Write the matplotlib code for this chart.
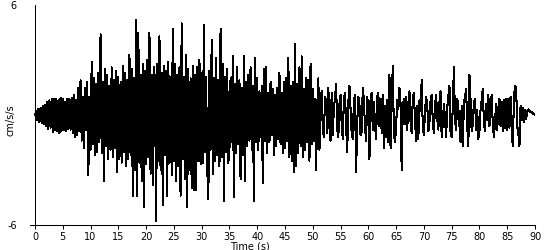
import matplotlib
matplotlib.use("Agg")
import matplotlib.pyplot as plt
import numpy as np

# acceleration record, one value every 0.2 s
dt = 0.2
accel = [
    # 0 - 5 s
    0, 0.2, -0.3, 0.35, -0.4, 0.4, -0.45, 0.5, -0.5, 0.55, -0.6, 0.7, -0.75, 0.8, -0.7, 0.9, -0.95, 0.85, -0.8, 0.9, -0.9, 0.8, -1.0, 0.95, -0.85,
    # 5 - 10 s
    0.9, -0.8, 0.7, -0.9, 0.85, -0.75, 0.9, -0.8, 0.95, -1.0, 1.1, -1.2, 0.8, -1.1, 1.5, -0.9, 1.9, -1.4, 1.0, -1.8, 1.5, -0.8, 1.8, -3.3, 1.0,
    # 10 - 15 s
    -1.9, 2.9, -1.6, 2.0, -2.2, 1.7, -2.0, 2.3, -1.5, 4.4, -2.1, 1.8, -3.6, 2.5, -1.7, 2.2, -2.4, 1.6, -1.9, 2.6, -2.3, 1.9, -1.8, 2.4, -3.1,
    # 15 - 20 s
    2.1, -2.4, 1.8, -2.6, 2.7, -2.0, 2.3, -2.8, 1.9, -2.4, 3.3, -2.2, 2.5, -4.4, 2.0, -3.0, 5.2, -4.4, 4.5, -2.6, 2.2, -3.6, 2.8, -5.0, 2.4,
    # 20 - 25 s
    -2.7, 3.0, -2.3, 4.5, -3.2, 2.2, -3.8, 2.6, 1.9, -5.8, 2.8, -2.5, 4.3, -3.0, 2.3, -4.9, 2.7, -2.2, 2.4, -4.4, 2.9, -2.6, 2.1, -3.3, 4.7,
    # 25 - 30 s
    -2.5, 2.8, -3.6, 2.2, -2.8, 2.6, -4.4, 5.0, -2.4, 2.1, -3.5, 3.3, -5.0, 2.5, -3.0, 2.0, -4.0, 2.7, -4.1, 2.2, -4.1, 2.6, -2.5, 3.0, -2.7,
    # 30 - 35 s
    2.3, -2.6, 4.9, -2.0, 2.1, -2.9, -4.6, 2.4, -1.9, 4.1, -3.2, 2.0, -2.5, 3.1, -2.2, 1.9, -2.8, 4.7, -2.3, 2.8, -4.7, 2.1, -2.0, 2.5, -2.6,
    # 35 - 40 s
    -1.9, 2.0, -1.5, 3.2, -4.5, 1.7, -2.1, 2.6, -1.6, 1.9, -3.5, 1.5, -2.2, 3.2, -3.6, 1.8, -1.7, 2.2, -1.4, 2.6, -1.9, 1.6, -4.7, 3.1, -1.5,
    # 40 - 45 s
    2.0, -1.9, 1.3, -1.2, 1.6, -3.7, 2.5, -1.4, 2.6, -2.1, 1.2, -1.5, 1.8, -1.1, 1.4, -2.2, 1.1, -1.7, 1.5, -1.3, 2.3, -1.6, 1.2, -2.1, 1.8,
    # 45 - 50 s
    -1.8, 2.0, -1.4, 3.1, -2.3, 1.6, -2.5, 1.8, -3.1, 3.9, -2.8, 1.7, -2.1, 2.6, -1.7, 3.2, -2.3, 1.4, -1.9, 2.0, -1.5, 1.9, -2.5, 2.8, -1.6,
    # 50 - 55 s
    1.4, -1.4, 0.9, -3.0, 0.4, 2.0, -1.9, 0.6, 1.3, -0.8, -1.2, 1.0, 0.8, -1.0, 1.5, -0.7, -1.4, 1.2, -1.1, 0.4, 0.9, 1.7, -0.8, -1.2, 0.6,
    # 55 - 60 s
    1.1, -0.5, -1.3, 0.9, 1.2, -0.6, -2.0, 0.7, 1.6, 0.3, -1.0, -1.3, 0.8, 1.1, -3.1, -0.4, 1.0, 0.6, -1.1, -0.9, 1.5, 0.8, -0.7, -1.4, 1.0,
    # 60 - 65 s
    0.4, -2.4, 0.9, 1.2, -0.8, 0.7, -0.5, -1.3, 1.0, 1.2, -0.6, 0.9, -1.0, 1.1, -1.8, 0.5, -1.2, 0.8, -1.5, 2.2, -1.8, 0.6, 2.7, -1.0, -1.5,
    # 65 - 70 s
    -0.6, 0.8, 0.3, 1.5, 0.6, -3.0, 0.4, 0.9, -0.5, 1.0, -0.8, 0.6, 1.3, -0.4, -1.0, 0.9, 1.2, -0.3, -1.4, 0.5, -1.3, 0.8, 0.2, 1.9, -0.7,
    # 70 - 75 s
    -1.1, 0.2, 1.0, 0.6, -0.9, -0.4, 0.8, 1.1, -0.3, -1.0, 0.5, 1.1, -0.2, -0.8, 0.7, 1.3, -1.2, -0.5, 0.6, -0.2, -1.2, 0.4, 1.0, 1.6, -1.0,
    # 75 - 80 s
    -1.2, 0.5, 2.6, -0.3, -0.8, 0.9, 0.4, -0.6, -1.5, 0.5, -1.7, 0.6, 1.0, 1.4, -0.6, -1.7, 2.2, 0.8, -0.9, -0.5, 0.7, 0.9, -0.8, 0.3, -1.3,
    # 80 - 85 s
    -0.9, 0.3, 0.8, 1.4, -0.4, -0.9, 0.6, -0.3, 1.1, -0.6, 0.4, 1.1, -0.5, -1.2, -0.4, 0.6, -0.8, 0.4, 0.9, -0.6, 0.7, -0.9, 0.8, -0.7, 0.9,
    # 85 - 90 s
    -0.8, 0.9, -0.7, 1.0, -0.9, -1.7, 0.8, 1.6, 1.5, -0.6, -1.0, -1.7, 0.5, -0.3, 0.4, -0.4, 0.3, -0.2, 0.2, 0.3, 0.25, 0.15, 0.15, 0.1, 0.05,
    0.0,
]
time = np.arange(len(accel)) * dt

x_ticks = list(range(0, 91, 5))
y_ticks = [-6, 6]

fig = plt.figure(figsize=(5.5, 2.5), dpi=100)
ax = fig.add_axes([30 / 550, 25 / 250, 505 / 550, 220 / 250])

ax.plot(time, accel, color="black", linewidth=0.75, antialiased=False)

ax.set_xlim(-0.9, 90)
ax.set_ylim(-6, 6)
ax.spines["top"].set_visible(False)
ax.spines["right"].set_visible(False)
ax.spines["left"].set_position(("data", 0))
for s in ["left", "bottom"]:
    ax.spines[s].set_linewidth(0.75)

ax.set_xticks(x_ticks)
ax.set_xticklabels([str(v) for v in x_ticks])
ax.set_yticks(y_ticks)
ax.set_yticklabels([str(v) for v in y_ticks])
ax.tick_params(axis="x", direction="out", length=3, width=0.75, pad=2, labelsize=7)
ax.tick_params(axis="y", length=0, pad=13, labelsize=7)

ax.set_xlabel("Time (s)", fontsize=7)
ax.xaxis.set_label_coords(0.436, -0.075)
ax.xaxis.label.set_va("top")
ax.set_ylabel("cm/s/s", fontsize=7)
ax.yaxis.set_label_coords(-0.028, 0.477)

fig.savefig("out.png", dpi=100)
